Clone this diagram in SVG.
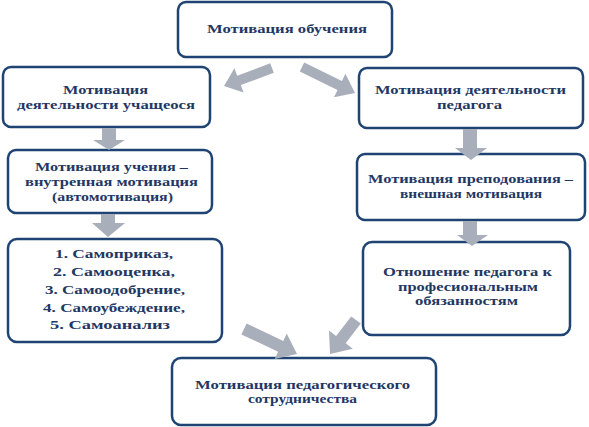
<svg xmlns="http://www.w3.org/2000/svg" width="589" height="427" viewBox="0 0 589 427">
<style>
.box{fill:#ffffff;stroke:#1f4474;stroke-width:2.5}
.t{font-family:"Liberation Serif","Times New Roman",serif;font-weight:bold;font-size:12.5px;fill:#1f3864;text-anchor:middle}
.arr{fill:#a9aebb}
</style>
<rect width="589" height="427" fill="#ffffff"/>
<g id="n-top"><rect class="box" x="178" y="2" width="214" height="55" rx="8"/>
<text class="t" x="287" y="33" textLength="160" lengthAdjust="spacingAndGlyphs">Мотивация обучения</text></g>
<g id="n-l1"><rect class="box" x="3" y="67" width="207" height="60" rx="8"/>
<text class="t" x="105.5" y="94" textLength="85" lengthAdjust="spacingAndGlyphs">Мотивация</text>
<text class="t" x="106" y="109" textLength="178" lengthAdjust="spacingAndGlyphs">деятельности учащеося</text></g>
<g id="n-r1"><rect class="box" x="359" y="68" width="224" height="60" rx="8"/>
<text class="t" x="470.5" y="94" textLength="191" lengthAdjust="spacingAndGlyphs">Мотивация деятельности</text>
<text class="t" x="469.5" y="109" textLength="65" lengthAdjust="spacingAndGlyphs">педагога</text></g>
<g id="n-l2"><rect class="box" x="8" y="150" width="204" height="63" rx="8"/>
<text class="t" x="111.5" y="171" textLength="153" lengthAdjust="spacingAndGlyphs">Мотивация учения –</text>
<text class="t" x="111.5" y="186" textLength="173" lengthAdjust="spacingAndGlyphs">внутренная мотивация</text>
<text class="t" x="112.5" y="201" textLength="121" lengthAdjust="spacingAndGlyphs">(автомотивация)</text></g>
<g id="n-r2"><rect class="box" x="357" y="154" width="228" height="66" rx="8"/>
<text class="t" x="470.5" y="183" textLength="205" lengthAdjust="spacingAndGlyphs">Мотивация преподования –</text>
<text class="t" x="471" y="198" textLength="142" lengthAdjust="spacingAndGlyphs">внешная мотивация</text></g>
<g id="n-l3"><rect class="box" x="8" y="239" width="214" height="103" rx="9"/>
<text class="t" x="114" y="258" textLength="118" lengthAdjust="spacingAndGlyphs">1. Самоприказ,</text>
<text class="t" x="114" y="276" textLength="122" lengthAdjust="spacingAndGlyphs">2. Самооценка,</text>
<text class="t" x="115" y="294" textLength="140" lengthAdjust="spacingAndGlyphs">3. Самоодобрение,</text>
<text class="t" x="114" y="312" textLength="142" lengthAdjust="spacingAndGlyphs">4. Самоубеждение,</text>
<text class="t" x="110" y="329" textLength="120" lengthAdjust="spacingAndGlyphs">5. Самоанализ</text></g>
<g id="n-r3"><rect class="box" x="363" y="242" width="207" height="93" rx="9"/>
<text class="t" x="467.5" y="276" textLength="169" lengthAdjust="spacingAndGlyphs">Отношение педагога к</text>
<text class="t" x="468" y="290.5" textLength="140" lengthAdjust="spacingAndGlyphs">професиональным</text>
<text class="t" x="466.5" y="305" textLength="103" lengthAdjust="spacingAndGlyphs">обязанностям</text></g>
<g id="n-bottom"><rect class="box" x="172" y="358" width="264" height="67" rx="9"/>
<text class="t" x="302.5" y="389" textLength="215" lengthAdjust="spacingAndGlyphs">Мотивация педагогического</text>
<text class="t" x="302.5" y="403" textLength="109" lengthAdjust="spacingAndGlyphs">сотрудничества</text></g>
<g id="connectors">
<polygon class="arr" points="273.8,72.7 270.2,63.3 237.2,75.7 234.4,68.2 224,86 243.6,92.6 240.8,85.1"/>
<polygon class="arr" points="299.8,71.5 304.2,62.5 341.9,81 345.4,73.8 355,93 334,97.2 337.5,90"/>
<polygon class="arr" points="102,128 116,128 116,140 125,140 109,150 93,140 102,140"/>
<polygon class="arr" points="101,214 115,214 115,223 125,223 108,237 92,223 101,223"/>
<polygon class="arr" points="463,129 477,129 477,148 487,148 471,160 455,148 463,148"/>
<polygon class="arr" points="463,221 477,221 477,235 488,235 472,246 457,235 463,235"/>
<polygon class="arr" points="241.4,334.4 246.6,323.6 283.3,340.9 286.7,333.6 297,354 274.7,358.9 278.1,351.7"/>
<polygon class="arr" points="360.8,323.6 351.2,316.4 336.1,336.1 329,330.6 330,354 352.8,348.8 345.7,343.3"/>
</g>
</svg>
